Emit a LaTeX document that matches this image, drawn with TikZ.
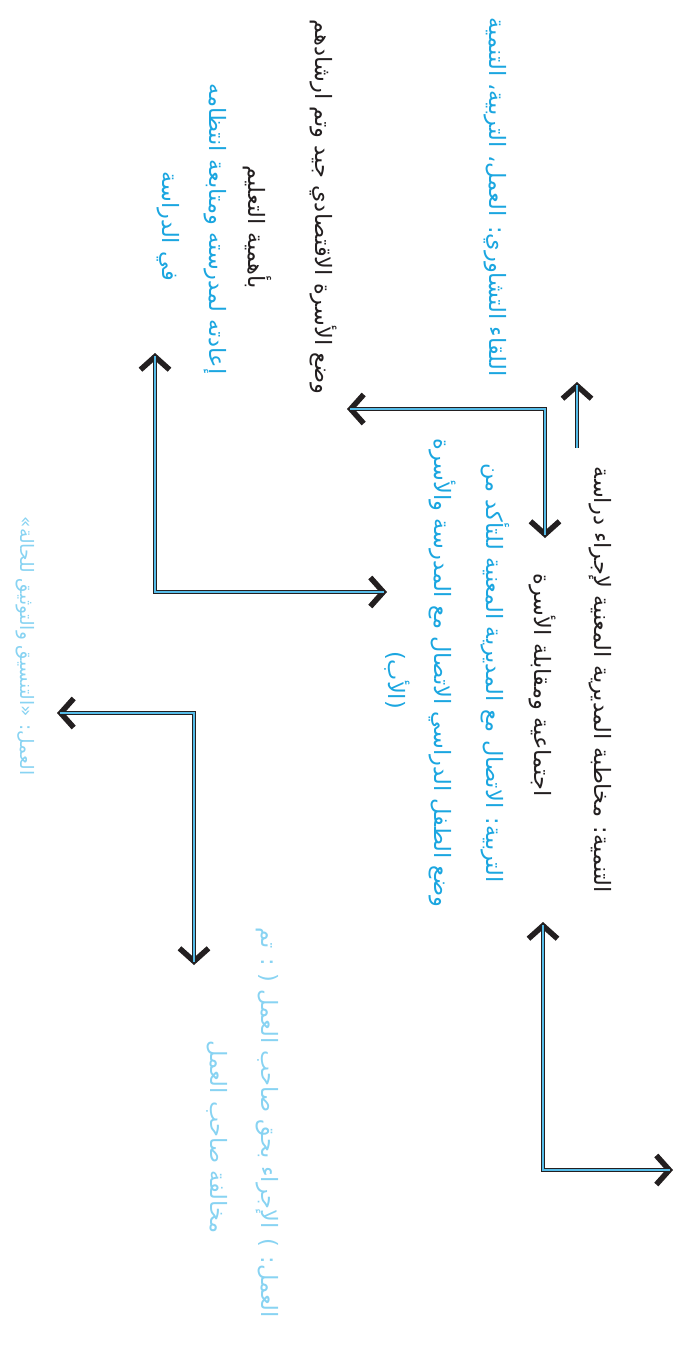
\documentclass[tikz,border=0pt]{standalone}
\usepackage{fontspec}
\TeXXeTstate=1
\newfontfamily\arabicfont[Script=Arabic]{DejaVu Sans}
\usetikzlibrary{arrows.meta}

\definecolor{ink}{HTML}{231F20}
\definecolor{cyantext}{HTML}{1BA6E0}
\definecolor{palecyan}{HTML}{88D3F2}
\definecolor{railblue}{HTML}{56BCE8}

\tikzset{
  chev/.tip={Straight Barb[length=13pt,width=29pt,line width=5.5pt]},
  arline/.style={font=\arabicfont\fontsize{22.5}{26}\selectfont, rotate=-90, inner sep=0pt},
  darkline/.style={arline, text=ink},
  blueline/.style={arline, text=cyantext},
  paleline/.style={arline, text=palecyan},
  smallpale/.style={paleline, font=\arabicfont\fontsize{18.5}{22}\selectfont},
  railouter/.style={draw=ink, line width=4.5pt, line join=miter, line cap=butt},
  railcore/.style={draw=railblue, line width=1.8pt, line join=miter, line cap=butt},
}

\newcommand{\ar}[1]{\beginR #1\endR}

\begin{document}
\begin{tikzpicture}[x=1pt, y=-1pt]
  \useasboundingbox (0,0) rectangle (678,1349);

  % middle column: study request and family visit
  \node[darkline] (a1) at (600,680) {\ar{التنمية: مخاطبة المديرية المعنية لإجراء دراسة}};
  \node[darkline] (a2) at (542,685) {\ar{اجتماعية ومقابلة الأسرة}};
  \node[blueline] (b1) at (495,673) {\ar{التربية: الاتصال مع المديرية المعنية للتأكد من}};
  \node[blueline] (b2) at (442,673) {\ar{وضع الطفل الدراسي الاتصال مع المدرسة والأسرة}};
  \node[blueline] (b3) at (397,680) {\ar{(الأب)}};

  % upper block: consultation meeting and outcome
  \node[blueline] (c1) at (495,197) {\ar{اللقاء التشاوري: العمل، التربية، التنمية}};
  \node[darkline] (d1) at (323,207) {\ar{وضع الأسرة الاقتصادي جيد وتم ارشادهم}};
  \node[darkline] (d2) at (257,227) {\ar{بأهمية التعليم}};
  \node[blueline] (e1) at (215,229) {\ar{إعادته لمدرسته ومتابعة انتظامه}};
  \node[blueline] (e2) at (168,226) {\ar{في الدراسة}};

  % labour actions (stand-alone brackets are set already mirrored)
  \node[paleline] (f1) at (267,1123) {\ar{العمل: ) الإجراء بحق صاحب العمل ( : تم}};
  \node[paleline] (f2) at (217,1137) {\ar{مخالفة صاحب العمل}};
  \node[smallpale] (g1) at (25,646) {\ar{العمل: «التنسيق والتوثيق للحالة»}};

  % connector end points and corners
  \coordinate (k1s) at (577,448);
  \coordinate (k1e) at (577,382);
  \coordinate (k2a) at (347,409);
  \coordinate (k2b) at (545,409);
  \coordinate (k2c) at (545,538);
  \coordinate (k3a) at (155,353);
  \coordinate (k3b) at (155,592);
  \coordinate (k3c) at (387,592);
  \coordinate (k4a) at (543,922);
  \coordinate (k4b) at (543,1170);
  \coordinate (k4c) at (673,1170);
  \coordinate (k5a) at (57,713);
  \coordinate (k5b) at (194,713);
  \coordinate (k5c) at (194,965);

  % dark outer rails with chevron heads
  \draw[railouter, -chev] (k1s) -- (k1e);
  \draw[railouter, chev-chev] (k2a) -- (k2b) -- (k2c);
  \draw[railouter, chev-chev] (k3a) -- (k3b) -- (k3c);
  \draw[railouter, chev-chev] (k4a) -- (k4b) -- (k4c);
  \draw[railouter, chev-chev] (k5a) -- (k5b) -- (k5c);

  % blue cores of the rails
  \draw[railcore, shorten >=3pt] (k1s) -- (k1e);
  \draw[railcore, shorten <=3pt, shorten >=3pt] (k2a) -- (k2b) -- (k2c);
  \draw[railcore, shorten <=3pt, shorten >=3pt] (k3a) -- (k3b) -- (k3c);
  \draw[railcore, shorten <=3pt, shorten >=3pt] (k4a) -- (k4b) -- (k4c);
  \draw[railcore, shorten <=3pt, shorten >=3pt] (k5a) -- (k5b) -- (k5c);
\end{tikzpicture}
\end{document}
